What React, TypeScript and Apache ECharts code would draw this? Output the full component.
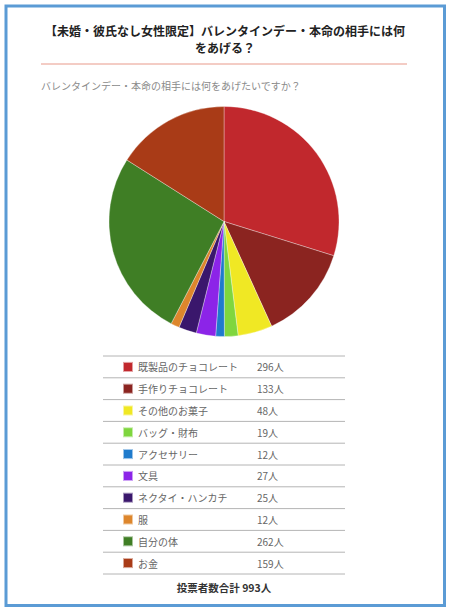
import React, { useEffect, useRef } from 'react';
import * as echarts from 'echarts';

const categories = [
  '既製品のチョコレート',
  '手作りチョコレート',
  'その他のお菓子',
  'バッグ・財布',
  'アクセサリー',
  '文具',
  'ネクタイ・ハンカチ',
  '服',
  '自分の体',
  'お金',
];
const votes = [296, 133, 48, 19, 12, 27, 25, 12, 262, 159];
const colors = [
  '#c1282d', '#8b2420', '#f0e824', '#7fd63e', '#1f7bcc',
  '#8c24e8', '#3a176c', '#dd862c', '#3f7e25', '#a93b17',
];

const TITLE = '【未婚・彼氏なし女性限定】バレンタインデー・本命の相手には何\nをあげる？';
const SUBTITLE = 'バレンタインデー・本命の相手には何をあげたいですか？';
const FONT = '"Noto Sans CJK JP", "Noto Sans", sans-serif';

const ROW_TOP = 356;
const ROW_H = 21.8;

export default function App() {
  const chartRef = useRef<HTMLDivElement>(null);

  useEffect(() => {
    if (!chartRef.current) return;
    const chart = echarts.init(chartRef.current, null, { renderer: 'svg' });
    const total = votes.reduce((a, b) => a + b, 0);

    // 表の区切り線
    const rowLines = Array.from({ length: categories.length + 1 }, (_, i) => ({
      type: 'line',
      shape: { x1: 103, y1: ROW_TOP + i * ROW_H, x2: 345, y2: ROW_TOP + i * ROW_H },
      style: { stroke: '#b4b4b4', lineWidth: 1 },
      silent: true,
    }));

    chart.setOption({
      animation: false,
      color: colors,
      title: {
        text: TITLE,
        left: 225,
        top: 22,
        padding: 0,
        textAlign: 'center',
        textStyle: {
          fontFamily: FONT,
          fontSize: 12,
          fontWeight: 'bold',
          color: '#222',
          lineHeight: 17,
        },
      },
      legend: {
        orient: 'vertical',
        left: 122,
        top: ROW_TOP + ROW_H / 2 - 6,
        padding: 0,
        itemWidth: 10,
        itemHeight: 10,
        itemGap: ROW_H - 12,
        selectedMode: false,
        icon: 'rect',
        data: categories,
        formatter: (name: string) => {
          const i = categories.indexOf(name);
          return `{n|${name}}{v|${votes[i]}人}`;
        },
        textStyle: {
          fontFamily: FONT,
          fontSize: 10,
          color: '#666',
          lineHeight: 12,
          rich: {
            n: { width: 119, fontSize: 10, color: '#666', fontFamily: FONT },
            v: { fontSize: 10, color: '#666', fontFamily: FONT },
          },
        },
      },
      graphic: [
        {
          type: 'rect',
          shape: { x: 6, y: 6, width: 438.5, height: 599.5 },
          style: { fill: 'none', stroke: '#5b9bd5', lineWidth: 3 },
          silent: true,
        },
        {
          type: 'line',
          shape: { x1: 41, y1: 64, x2: 407, y2: 64 },
          style: { stroke: '#e8998a', lineWidth: 1 },
          silent: true,
        },
        {
          type: 'text',
          x: 41,
          y: 85,
          style: {
            text: SUBTITLE,
            fontFamily: FONT,
            fontSize: 10,
            fill: '#8a8a8a',
            verticalAlign: 'middle',
          },
        },
        ...rowLines,
        {
          type: 'text',
          x: 224,
          y: 587,
          style: {
            text: `投票者数合計 ${total}人`,
            fontFamily: FONT,
            fontSize: 10.5,
            fontWeight: 'bold',
            fill: '#333',
            align: 'center',
            verticalAlign: 'middle',
          },
        },
      ],
      series: [
        {
          type: 'pie',
          center: [224, 221.5],
          radius: 115,
          startAngle: 90,
          clockwise: true,
          label: { show: false },
          labelLine: { show: false },
          emphasis: { disabled: true },
          itemStyle: { borderColor: 'rgba(255,255,255,0.55)', borderWidth: 0.6 },
          data: categories.map((name, i) => ({ name, value: votes[i] })),
        },
      ],
    });

    return () => chart.dispose();
  }, []);

  return (
    <div style={{ position: 'fixed', left: 0, top: 0, width: 451, height: 615, background: '#fff' }}>
      <div ref={chartRef} style={{ width: 451, height: 615 }} />
    </div>
  );
}
